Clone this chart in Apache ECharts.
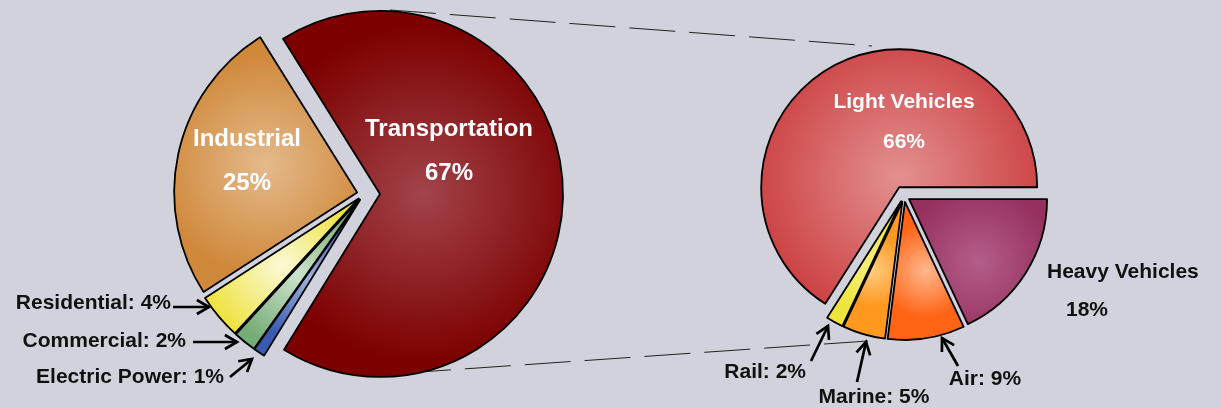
<!DOCTYPE html>
<html>
<head>
<meta charset="utf-8">
<script src="https://cdn.jsdelivr.net/npm/echarts@6/dist/echarts.min.js"></script>
<style>
  html, body { margin: 0; padding: 0; background: #d2d2dc; }
  #main { width: 1222px; height: 408px; }
</style>
</head>
<body>
<div id="main"></div>
<script>
// sector shares (%)
const sectorNames = ['Transportation', 'Electric Power', 'Commercial', 'Residential', 'Industrial'];
const sectorValues = [67, 1, 2, 4, 25];
// breakdown of transportation (%)
const transportNames = ['Light Vehicles', 'Rail', 'Marine', 'Air', 'Heavy Vehicles'];
const transportValues = [66, 2, 5, 9, 18];

// [center colour, edge colour]
const COLORS = {
  'Transportation': ['#a2444a', '#7c0000'],
  'Industrial': ['#e4ba8c', '#d0883a'],
  'Residential': ['#fbf9d6', '#eee23c'],
  'Commercial': ['#cde3cd', '#76ad76'],
  'Electric Power': ['#9cb0dc', '#3a5ab2'],
  'Light Vehicles': ['#e39090', '#cb3e40'],
  'Heavy Vehicles': ['#b35e8a', '#96305f'],
  'Rail': ['#f6ef78', '#eee43e'],
  'Marine': ['#ffcc80', '#ff981f'],
  'Air': ['#ffb88e', '#ff6314']
};

// label anchor [x, y, align, style]
const LABEL_AT = {
  'Transportation': [449, 151, 'center', 'big'],
  'Industrial': [247, 161, 'center', 'big'],
  'Residential': [171, 303, 'right', 'side'],
  'Commercial': [186, 341, 'right', 'side'],
  'Electric Power': [224, 377, 'right', 'side'],
  'Light Vehicles': [904, 122, 'center', 'mid'],
  'Heavy Vehicles': [1047, 291, 'left', 'heavy'],
  'Rail': [806, 372, 'right', 'side'],
  'Marine': [874, 397, 'center', 'side'],
  'Air': [985, 379, 'center', 'side']
};

// arrows from label to slice
const ARROWS = [
  { tail: [173, 307], tip: [209, 307] },
  { tail: [193, 342], tip: [237, 342] },
  { tail: [230, 377], tip: [252, 359] },
  { tail: [811, 361], tip: [828, 326] },
  { tail: [857, 382], tip: [866, 342] },
  { tail: [958, 366], tip: [942, 338] }
];

const CONNECTORS = [
  [[390, 10], [872, 46]],
  [[405, 373], [868, 341]]
];

const FONT = '"Liberation Sans", Arial, sans-serif';

function grad(c) {
  return {
    type: 'radial', x: 0.5, y: 0.5, r: 0.6,
    colorStops: [{ offset: 0, color: c[0] }, { offset: 1, color: c[1] }]
  };
}

function labelText(name, value, kind) {
  if (kind === 'side') return name + ': ' + value + '%';
  if (kind === 'heavy') return '{n|' + name + '}\n{v|' + value + '%}';
  return name + '\n' + value + '%';
}

function labelStyle(kind) {
  if (kind === 'big') return { fill: '#fff', fontSize: 24, lineHeight: 44 };
  if (kind === 'mid') return { fill: '#fff', fontSize: 21, lineHeight: 40 };
  if (kind === 'heavy') return {
    fill: '#111', fontSize: 21,
    rich: {
      n: { fontFamily: FONT, fontWeight: 'bold', fontSize: 21, lineHeight: 38, fill: '#111' },
      v: { fontFamily: FONT, fontWeight: 'bold', fontSize: 21, lineHeight: 38, fill: '#111', padding: [0, 0, 0, 19] }
    }
  };
  return { fill: '#111', fontSize: 21 };
}

function pieSeries(names, values, visible, offset, geo) {
  return {
    type: 'pie',
    center: geo.center,
    radius: geo.radius,
    startAngle: geo.startAngle,
    clockwise: geo.clockwise,
    selectedMode: 'multiple',
    selectedOffset: offset,
    avoidLabelOverlap: false,
    silent: true,
    animation: false,
    emphasis: { disabled: true },
    label: { show: false },
    labelLine: { show: false },
    data: names.map(function (n, i) {
      if (visible.indexOf(n) >= 0) {
        return {
          name: n, value: values[i], selected: true,
          itemStyle: { color: grad(COLORS[n]), borderColor: '#000', borderWidth: 1.8 }
        };
      }
      return {
        name: n, value: values[i],
        itemStyle: { color: 'rgba(0,0,0,0)', borderWidth: 0 }
      };
    })
  };
}

const leftGeo = { center: [364, 194], radius: 183, startAngle: 122, clockwise: true };
const rightGeo = { center: [904, 196], radius: 138, startAngle: 0, clockwise: false };

const graphics = [];
CONNECTORS.forEach(function (c) {
  graphics.push({
    type: 'line', z: 0,
    shape: { x1: c[0][0], y1: c[0][1], x2: c[1][0], y2: c[1][1] },
    style: { stroke: '#222', lineWidth: 1, lineDash: [46, 14] }
  });
});
ARROWS.forEach(function (a) {
  const tx = a.tip[0], ty = a.tip[1], sx = a.tail[0], sy = a.tail[1];
  const ang = Math.atan2(ty - sy, tx - sx);
  const h = 14, spread = Math.PI / 6;
  graphics.push({
    type: 'line',
    shape: { x1: sx, y1: sy, x2: tx, y2: ty },
    style: { stroke: '#000', lineWidth: 2.7 }
  });
  graphics.push({
    type: 'polyline',
    shape: { points: [
      [tx - h * Math.cos(ang - spread), ty - h * Math.sin(ang - spread)],
      [tx, ty],
      [tx - h * Math.cos(ang + spread), ty - h * Math.sin(ang + spread)]
    ] },
    style: { stroke: '#000', lineWidth: 2.7, fill: null }
  });
});

function addLabels(names, values) {
  names.forEach(function (n, i) {
    const L = LABEL_AT[n];
    const st = Object.assign({
      text: labelText(n, values[i], L[3]),
      x: L[0], y: L[1], align: L[2], verticalAlign: 'middle',
      fontFamily: FONT, fontWeight: 'bold'
    }, labelStyle(L[3]));
    graphics.push({ type: 'text', z: 10, style: st });
  });
}
addLabels(sectorNames, sectorValues);
addLabels(transportNames, transportValues);

const chart = echarts.init(document.getElementById('main'));
chart.setOption({
  backgroundColor: '#d2d2dc',
  animation: false,
  graphic: { elements: graphics },
  series: [
    pieSeries(sectorNames, sectorValues, ['Transportation'], 16, leftGeo),
    pieSeries(sectorNames, sectorValues, ['Electric Power', 'Commercial', 'Residential', 'Industrial'], 7, leftGeo),
    pieSeries(transportNames, transportValues, ['Light Vehicles'], 10, rightGeo),
    pieSeries(transportNames, transportValues, ['Rail', 'Marine', 'Air', 'Heavy Vehicles'], 6, rightGeo)
  ]
});
</script>
</body>
</html>
